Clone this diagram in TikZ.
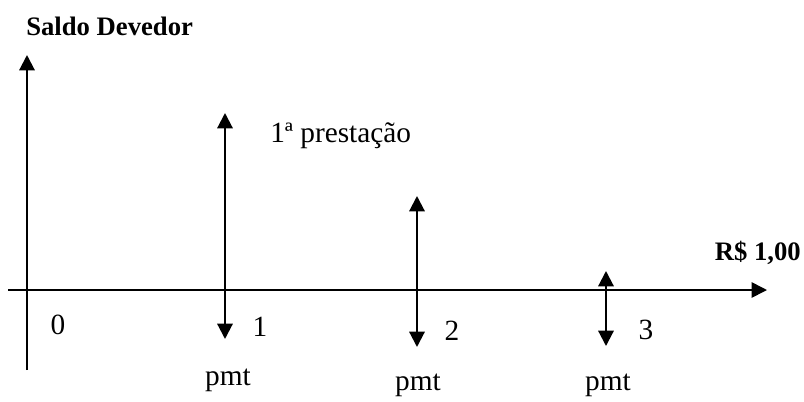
\documentclass[tikz,border=0pt]{standalone}
\usepackage{fontspec}
\setmainfont{Liberation Serif}
\usetikzlibrary{arrows.meta}
\begin{document}
\begin{tikzpicture}[x=0.75pt,y=-0.75pt,
  ax/.style={line width=1.6pt,-{Triangle[length=11.5pt,width=11.5pt]}},
  hax/.style={line width=1.2pt,-{Triangle[length=11.5pt,width=11.5pt]}},
  flow/.style={line width=1.6pt,{Triangle[length=11.5pt,width=11.5pt]}-{Triangle[length=11.5pt,width=11.5pt]}},
  lbl/.style={font=\fontsize{22}{26}\selectfont,inner sep=0pt},
  blbl/.style={font=\fontsize{20}{24}\selectfont\bfseries,inner sep=0pt}]
\useasboundingbox (0,0) rectangle (804,401);
% axes
\coordinate (vb) at (27,370);
\coordinate (vt) at (27,55);
\coordinate (hl) at (8,290);
\coordinate (hr) at (767,290);
\draw[ax] (vb) -- (vt);
\draw[hax] (hl) -- (hr);
% cash flows
\coordinate (t1) at (225,113); \coordinate (b1) at (225,339);
\coordinate (t2) at (417,196); \coordinate (b2) at (417,347);
\coordinate (t3) at (606,271); \coordinate (b3) at (606,346);
\draw[flow] (b1) -- (t1);
\draw[flow] (b2) -- (t2);
\draw[flow] (b3) -- (t3);
% labels
\node[blbl,anchor=base west] (sd) at (26,35) {Saldo Devedor};
\node[blbl,anchor=base east] (rs) at (801,260) {R\$ 1,00};
\node[lbl,anchor=base west] (pr) at (270,142) {1ª prestação};
\node[lbl] (n0) at (58,325) {0};
\node[lbl] (n1) at (260,327) {1};
\node[lbl] (n2) at (452,331) {2};
\node[lbl] (n3) at (646,330) {3};
\node[lbl] (p1) at (228,380) {pmt};
\node[lbl] (p2) at (418,385) {pmt};
\node[lbl] (p3) at (608,385) {pmt};
\end{tikzpicture}
\end{document}
